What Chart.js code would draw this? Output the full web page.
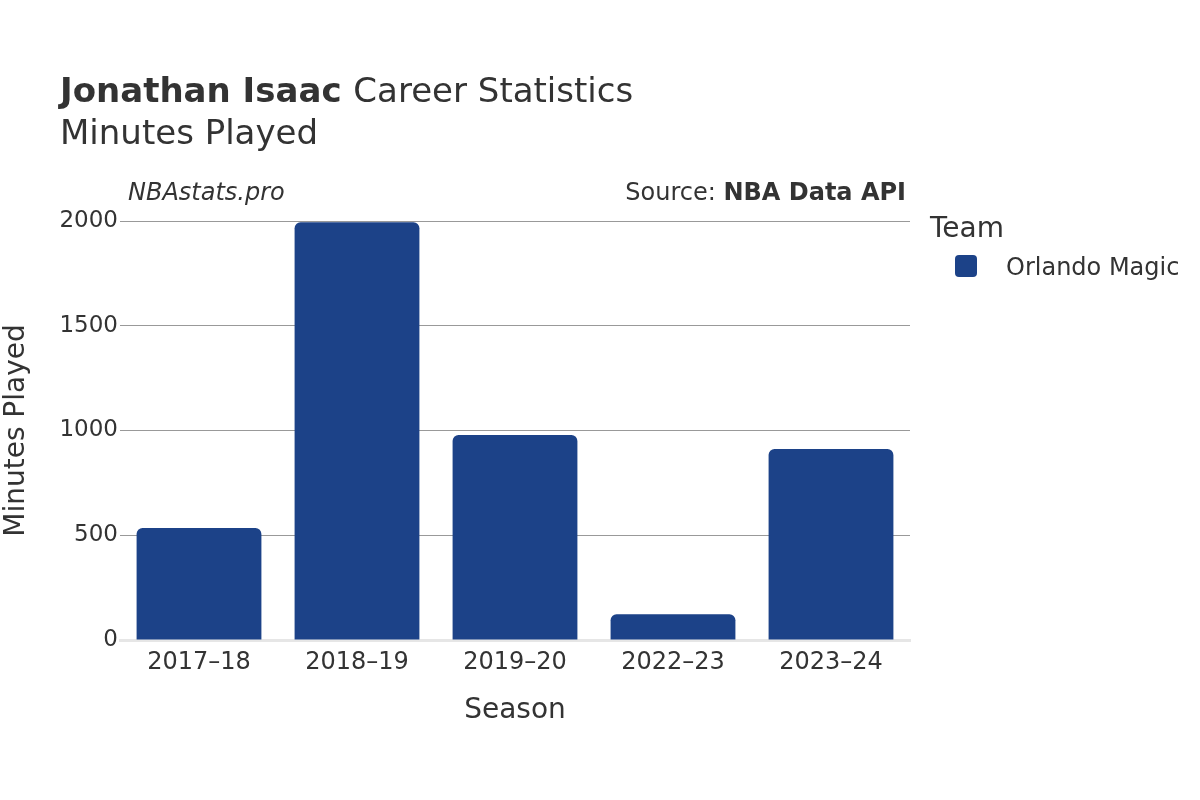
<html>
<head>
<meta charset="utf-8">
<title>Jonathan Isaac Minutes Played</title>
<script src="https://cdn.jsdelivr.net/npm/chart.js@4"></script>
<style>
  body { margin: 0; background: #fff; }
  #wrap { width: 1200px; height: 800px; }
</style>
</head>
<body>
<div id="wrap"><canvas id="minutesChart" width="1200" height="800"></canvas></div>
<script>
// data
var seasons = ["2017\u201318", "2018\u201319", "2019\u201320", "2022\u201323", "2023\u201324"];
var minutes = [535, 1994, 978, 123, 912];
var yTicks = [0, 500, 1000, 1500, 2000];
var teamName = "Orlando Magic";
var teamColor = "#1c4288";

var FONT = "'DejaVu Sans', Verdana, sans-serif";
var INK = "#333333";

// titles, source line and legend drawn on top
var decor = {
  id: 'decor',
  afterDraw: function(chart) {
    var c = chart.ctx;
    c.save();
    c.fillStyle = INK;
    c.textBaseline = 'alphabetic';
    c.textAlign = 'left';
    c.font = "bold 34px " + FONT;
    c.fillText("Jonathan Isaac", 60, 102);
    var w = c.measureText("Jonathan Isaac ").width;
    c.font = "34px " + FONT;
    c.fillText("Career Statistics", 60 + w, 102);
    c.fillText("Minutes Played", 60, 144);

    c.font = "italic 24px " + FONT;
    c.fillText("NBAstats.pro", 128, 200);
    c.textAlign = 'right';
    c.font = "bold 24px " + FONT;
    c.fillText("NBA Data API", 906, 200);
    var bw = c.measureText("NBA Data API").width;
    c.font = "24px " + FONT;
    c.fillText("Source: ", 906 - bw, 200);

    // legend
    c.textAlign = 'left';
    c.font = "28px " + FONT;
    c.fillText("Team", 930, 237);
    c.fillStyle = chart.data.datasets[0].backgroundColor;
    c.beginPath();
    c.roundRect(955, 255, 22, 22, 4);
    c.fill();
    c.fillStyle = INK;
    c.font = "24px " + FONT;
    c.fillText(chart.data.datasets[0].label, 1006, 275);
    c.restore();
  }
};

var ctx = document.getElementById("minutesChart").getContext("2d");
var minutesChart = new Chart(ctx, {
  type: 'bar',
  data: {
    labels: seasons,
    datasets: [{
      label: teamName,
      data: minutes,
      backgroundColor: teamColor,
      borderRadius: { topLeft: 6, topRight: 6, bottomLeft: 0, bottomRight: 0 },
      borderSkipped: 'bottom',
      barPercentage: 0.79,
      categoryPercentage: 1.0
    }]
  },
  options: {
    responsive: false,
    animation: false,
    layout: { padding: { left: 0, right: 290, top: 221, bottom: 68 } },
    plugins: {
      legend: { display: false },
      tooltip: { enabled: false }
    },
    scales: {
      x: {
        grid: { display: false },
        border: { display: true, color: '#e6e6e6', width: 3 },
        ticks: { color: INK, font: { family: FONT, size: 24 }, padding: 0 },
        title: { display: true, text: 'Season', color: INK, font: { family: FONT, size: 28 }, padding: { top: 10 } },
        afterFit: function(s) { s.height = 92; }
      },
      y: {
        min: 0,
        max: 2000,
        afterBuildTicks: function(s) { s.ticks = yTicks.map(function(v) { return { value: v }; }); },
        grid: {
          drawTicks: false,
          color: function(c) { return c.tick && c.tick.value === 0 ? 'rgba(0,0,0,0)' : '#999999'; },
          lineWidth: 1
        },
        border: { display: false },
        ticks: {
          color: INK, font: { family: FONT, size: 23 }, padding: 2,
          callback: function(v) { return String(v); }
        },
        title: { display: true, text: 'Minutes Played', color: INK, font: { family: FONT, size: 28 }, padding: { top: 0, bottom: 0 } },
        afterFit: function(s) { s.width = 120; }
      }
    }
  },
  plugins: [decor]
});
</script>
</body>
</html>
